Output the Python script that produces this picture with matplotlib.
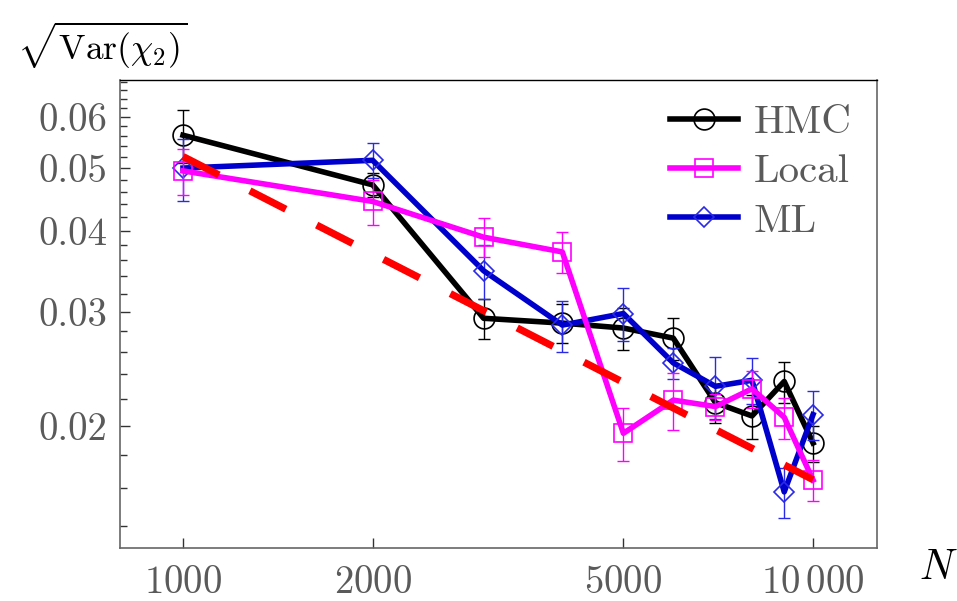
import numpy as np
import matplotlib
matplotlib.use("Agg")
import matplotlib.pyplot as plt
from matplotlib.ticker import FixedLocator, FixedFormatter, NullLocator

plt.rcParams['font.family'] = 'serif'
plt.rcParams['font.serif'] = ['cmr10']
plt.rcParams['mathtext.fontset'] = 'cm'
plt.rcParams['axes.unicode_minus'] = False

# ---- data ----
N = [1000, 2000, 3000, 4000, 5000, 6000, 7000, 8000, 9000, 10000]
hmc = [0.0562, 0.0471, 0.0293, 0.0288, 0.0283, 0.0273, 0.0217, 0.0207, 0.0234, 0.0188]
hmc_err = [0.0053, 0.0020, 0.0021, 0.0020, 0.0021, 0.0020, 0.0015, 0.0016, 0.0017, 0.0012]
local = [0.0495, 0.0444, 0.0391, 0.0371, 0.01946, 0.0219, 0.0214, 0.0228, 0.0206, 0.01648]
local_err = [0.0040, 0.0035, 0.0027, 0.0027, 0.0018, 0.0022, 0.0010, 0.0015, 0.0015, 0.0012]
ml = [0.0500, 0.0514, 0.0347, 0.0286, 0.0298, 0.0250, 0.0230, 0.0235, 0.0158, 0.0208]
ml_err = [0.0055, 0.0032, 0.0033, 0.0026, 0.0028, 0.0014, 0.0025, 0.0019, 0.0014, 0.0018]
fit_N = [1000, 10000]
fit_y = [0.0521, 0.0165]

xticks = [1000, 2000, 5000, 10000]
xticklabels = [r'$1000$', r'$2000$', r'$5000$', r'$10\,000$']
yticks = [0.02, 0.03, 0.04, 0.05, 0.06]
yticklabels = ['0.02', '0.03', '0.04', '0.05', '0.06']
yminor = [0.014, 0.016, 0.018, 0.022, 0.024, 0.026, 0.028, 0.032, 0.034, 0.036,
          0.038, 0.042, 0.044, 0.046, 0.048, 0.052, 0.054, 0.056, 0.058, 0.062,
          0.064, 0.066, 0.068]

fig = plt.figure(figsize=(9.57, 6.01), dpi=100)
ax = fig.add_axes([0.1254, 0.0882, 0.791, 0.7787])
ax.set_xscale('log')
ax.set_yscale('log')

series = [
    (hmc, hmc_err, 'HMC', '#000000', '#000000', 'o', 15, 2),
    (ml, ml_err, 'ML', '#0000cc', '#2a2ae6', 'D', 10.5, 3),
    (local, local_err, 'Local', '#ff00ff', '#ff00ff', 's', 12.5, 4),
]
handles = {}
for vals, errs, lab, lc, mc, mk, ms, z in series:
    ax.errorbar(N, vals, yerr=errs, fmt='none', ecolor=mc, elinewidth=1.0,
                capsize=4, capthick=1.0, zorder=z - 0.5)
    h, = ax.plot(N, vals, color=lc, lw=4.0, marker=mk, ms=ms, mfc='none',
                 mec=mc, mew=1.2, zorder=z, label=lab)
    handles[lab] = h

ax.plot(fit_N, fit_y, color='#ff0000', lw=5.2, ls=(0, (5.6, 4.8)),
        dash_capstyle='butt', zorder=6)

ax.set_xlim(10 ** 2.9, 10 ** 4.1015)
ax.set_ylim(0.01294, 0.0684)

ax.xaxis.set_major_locator(FixedLocator(xticks))
ax.xaxis.set_major_formatter(FixedFormatter(xticklabels))
ax.xaxis.set_minor_locator(NullLocator())
ax.yaxis.set_major_locator(FixedLocator(yticks))
ax.yaxis.set_major_formatter(FixedFormatter(yticklabels))
ax.yaxis.set_minor_locator(FixedLocator(yminor))
ax.yaxis.set_minor_formatter(FixedFormatter([''] * len(yminor)))

ax.tick_params(which='both', direction='in', top=False, right=False,
               labelsize=28, labelcolor='#5a5a5a', color='#333333', width=1.0)
ax.tick_params(which='major', length=7)
ax.tick_params(which='minor', length=5)
ax.tick_params(axis='x', pad=12)
ax.tick_params(axis='y', pad=9)

for s in ['left', 'bottom', 'right']:
    ax.spines[s].set_color('#666666')
    ax.spines[s].set_linewidth(1.2)
ax.spines['top'].set_color('#000000')
ax.spines['top'].set_linewidth(1.0)

leg = ax.legend([handles['HMC'], handles['Local'], handles['ML']],
                ['HMC', 'Local', 'ML'], loc='upper right',
                bbox_to_anchor=(0.966, 0.948), frameon=False, fontsize=29.5,
                handlelength=1.66, handletextpad=0.37, labelspacing=0.31,
                borderaxespad=0, borderpad=0, numpoints=1)
for t in leg.get_texts():
    t.set_color('#5a5a5a')

fig.text(0.018, 0.925, r'$\sqrt{\mathrm{Var}(\chi_2)}$', fontsize=25.5,
         color='black', ha='left', va='center')
fig.text(0.96, 0.055, r'$N$', fontsize=30, color='black', ha='left', va='center')

fig.savefig('out.png', dpi=100)
